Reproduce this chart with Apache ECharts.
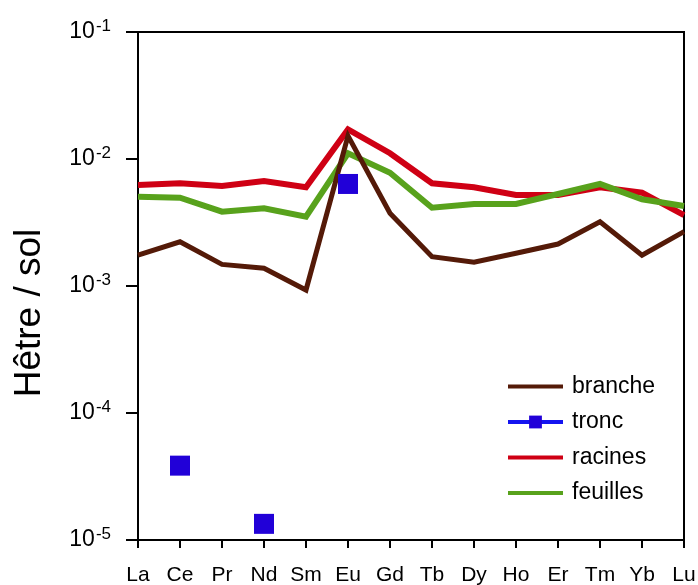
<!DOCTYPE html>
<html>
<head>
<meta charset="utf-8">
<script src="https://cdn.jsdelivr.net/npm/echarts@6/dist/echarts.min.js"></script>
<style>
  html, body { margin: 0; padding: 0; background: #fff; }
  #chart { width: 698px; height: 585px; }
</style>
</head>
<body>
<div id="chart"></div>
<script>
// ---- data ----
const elements = ['La', 'Ce', 'Pr', 'Nd', 'Sm', 'Eu', 'Gd', 'Tb', 'Dy', 'Ho', 'Er', 'Tm', 'Yb', 'Lu'];

const branche = [1.75e-3, 2.23e-3, 1.48e-3, 1.38e-3, 9.3e-4, 1.52e-2, 3.74e-3, 1.70e-3, 1.54e-3, 1.81e-3, 2.14e-3, 3.21e-3, 1.75e-3, 2.68e-3];
const tronc = [null, 3.85e-5, null, 1.34e-5, null, 6.36e-3, null, null, null, null, null, null, null, null];
const racines = [6.24e-3, 6.44e-3, 6.13e-3, 6.71e-3, 5.99e-3, 1.71e-2, 1.11e-2, 6.44e-3, 5.99e-3, 5.21e-3, 5.21e-3, 5.99e-3, 5.43e-3, 3.62e-3];
const feuilles = [5.05e-3, 4.96e-3, 3.85e-3, 4.09e-3, 3.51e-3, 1.11e-2, 7.80e-3, 4.13e-3, 4.42e-3, 4.42e-3, 5.30e-3, 6.36e-3, 4.82e-3, 4.26e-3];

const FONT = '"Liberation Sans", Arial, sans-serif';

const COLORS = {
  branche: '#541a08',
  tronc: '#2100d8',
  racines: '#cf0014',
  feuilles: '#58a21c',
};

const chart = echarts.init(document.getElementById('chart'));

function lineSeries(name, data, width, z) {
  return {
    name: name,
    type: 'line',
    data: data,
    symbol: 'none',
    z: z,
    lineStyle: { color: COLORS[name], width: width, join: 'miter' },
    itemStyle: { color: COLORS[name] },
  };
}

// legend entries: plain line for the curves, line + square for tronc
function legendLine(name) {
  return { name: name, itemStyle: { opacity: 0 }, lineStyle: { width: 4, color: COLORS[name] } };
}

chart.setOption({
  backgroundColor: '#fff',
  animation: false,
  grid: {
    left: 138, right: 14, top: 32, bottom: 45,
    outerBoundsMode: 'none',
    containLabel: false,
    show: true, borderColor: '#000', borderWidth: 2,
  },
  legend: {
    orient: 'vertical',
    left: 506, top: 375,
    padding: 0,
    itemWidth: 55, itemHeight: 16, itemGap: 12.5,
    textStyle: { fontFamily: FONT, fontSize: 23, color: '#000', padding: [0, 0, 0, 4] },
    data: [
      legendLine('branche'),
      { name: 'tronc', itemStyle: { color: COLORS.tronc }, lineStyle: { width: 4, color: '#1414f0' } },
      legendLine('racines'),
      legendLine('feuilles'),
    ],
  },
  xAxis: {
    type: 'category',
    data: elements,
    boundaryGap: false,
    axisLine: { lineStyle: { color: '#000', width: 2 } },
    axisTick: { length: 8, lineStyle: { color: '#000', width: 2 } },
    axisLabel: { fontFamily: FONT, fontSize: 21, color: '#000', margin: 25, interval: 0 },
    splitLine: { show: false },
  },
  yAxis: {
    type: 'log',
    logBase: 10,
    min: 1e-5,
    max: 1e-1,
    name: 'Hêtre / sol',
    nameLocation: 'middle',
    nameGap: 90,
    nameTextStyle: { fontFamily: FONT, fontSize: 37, color: '#000', padding: [0, 54, 0, 0] },
    axisLine: { show: true, lineStyle: { color: '#000', width: 2 } },
    axisTick: { show: true, inside: false, length: 12, lineStyle: { color: '#000', width: 2 } },
    minorTick: { show: false },
    splitLine: { show: false },
    axisLabel: {
      margin: 27,
      formatter: (v) => '{b|10}{s|' + Math.round(Math.log10(v)) + '}',
      rich: {
        b: { fontFamily: FONT, fontSize: 23, color: '#000' },
        s: { fontFamily: FONT, fontSize: 17, color: '#000', padding: [0, 0, 12, 1] },
      },
    },
  },
  series: [
    lineSeries('racines', racines, 6, 2),
    lineSeries('feuilles', feuilles, 6, 3),
    lineSeries('branche', branche, 5, 4),
    {
      name: 'tronc',
      type: 'line',
      data: tronc,
      connectNulls: false,
      symbol: 'rect',
      symbolSize: 20,
      showSymbol: true,
      z: 5,
      lineStyle: { color: '#1414f0', width: 4 },
      itemStyle: { color: COLORS.tronc },
    },
  ],
});
</script>
</body>
</html>
